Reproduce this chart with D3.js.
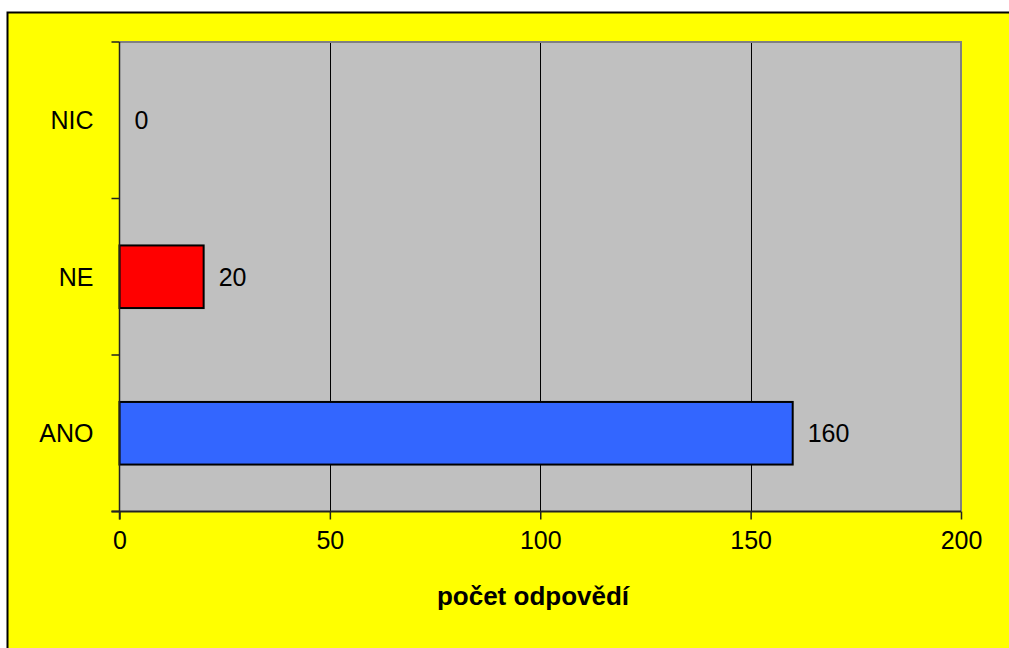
<!DOCTYPE html>
<html>
<head>
<meta charset="utf-8">
<script src="https://cdn.jsdelivr.net/npm/d3@7"></script>
<style>
  html, body { margin: 0; padding: 0; background: #ffffff; }
  svg { display: block; }
  text { font-family: "Liberation Sans", Arial, sans-serif; fill: #000; }
</style>
</head>
<body>
<svg id="chart" width="1009" height="648"></svg>
<script>
// Survey answers and counts
const categories = ["ANO", "NE", "NIC"];
const counts = [160, 20, 0];
const barColors = ["#3366FF", "#FF0000", "#FFFF00"];
const xTicks = [0, 50, 100, 150, 200];
const axisTitle = "počet odpovědí";

const svg = d3.select("#chart");
const W = 1009, H = 648;
const fontSize = 25;

// Yellow chart area with a border on top and left
svg.append("rect").attr("x", 7).attr("y", 12).attr("width", W - 7).attr("height", H - 12)
  .attr("fill", "#FFFF00");
svg.append("path").attr("d", `M7.5,${H} V12.5 H${W}`).attr("fill", "none")
  .attr("stroke", "#000").attr("stroke-width", 2);

const plot = { left: 119.5, right: 961, top: 42, bottom: 511.5 };

const x = d3.scaleLinear().domain([0, 200]).range([plot.left, plot.right]);
// Categories run bottom-to-top
const y = d3.scaleBand().domain(categories).range([plot.bottom, plot.top])
  .paddingInner(0.6).paddingOuter(0.3);
const yOuter = d3.scaleBand().domain(categories).range([plot.bottom, plot.top]);

// Plot background
svg.append("rect").attr("x", plot.left).attr("y", plot.top)
  .attr("width", plot.right - plot.left).attr("height", plot.bottom - plot.top)
  .attr("fill", "#C0C0C0");

// Vertical gridlines
svg.append("g").selectAll("line").data(xTicks.filter(d => d > 0 && d < 200)).join("line")
  .attr("x1", d => Math.round(x(d)) + 0.5).attr("x2", d => Math.round(x(d)) + 0.5)
  .attr("y1", plot.top).attr("y2", plot.bottom)
  .attr("stroke", "#000").attr("stroke-width", 1);

// Gray frame on top and right
svg.append("path")
  .attr("d", `M${plot.left},${plot.top} H${plot.right} V${plot.bottom}`)
  .attr("fill", "none").attr("stroke", "#808080").attr("stroke-width", 2);

// Bars
svg.append("g").selectAll("rect").data(categories).join("rect")
  .filter((d, i) => counts[i] > 0)
  .attr("x", x(0))
  .attr("y", d => y(d))
  .attr("width", d => x(counts[categories.indexOf(d)]) - x(0))
  .attr("height", y.bandwidth())
  .attr("fill", d => barColors[categories.indexOf(d)])
  .attr("stroke", "#000").attr("stroke-width", 2);

// Value labels
svg.append("g").selectAll("text").data(categories).join("text")
  .attr("x", d => x(counts[categories.indexOf(d)]) + 15)
  .attr("y", d => y(d) + y.bandwidth() / 2)
  .attr("dy", "0.35em")
  .attr("font-size", fontSize)
  .attr("fill", "#222")
  .text(d => counts[categories.indexOf(d)]);

// X axis
const xAxis = d3.axisBottom(x).tickValues(xTicks).tickSize(8).tickPadding(12);
const gx = svg.append("g").attr("transform", `translate(0,${plot.bottom})`).call(xAxis);
gx.select(".domain").attr("stroke", "#222").attr("stroke-width", 2)
  .attr("d", `M${plot.left - 8},0 H${plot.right}`);
gx.selectAll(".tick line").attr("stroke", "#222").attr("stroke-width", 1.5);
gx.selectAll(".tick text").attr("font-size", fontSize).attr("font-family", "Liberation Sans, Arial, sans-serif").attr("fill", "#000");

// Y axis with category boundary ticks
const gy = svg.append("g");
gy.append("line").attr("x1", plot.left).attr("x2", plot.left)
  .attr("y1", plot.top).attr("y2", plot.bottom + 8)
  .attr("stroke", "#222").attr("stroke-width", 1.5);
const bounds = categories.map(c => yOuter(c)).concat([plot.bottom]);
gy.selectAll("line.tk").data(bounds).join("line").attr("class", "tk")
  .attr("x1", plot.left - 8).attr("x2", plot.left)
  .attr("y1", d => d).attr("y2", d => d)
  .attr("stroke", "#222").attr("stroke-width", 1.5);
gy.selectAll("text").data(categories).join("text")
  .attr("x", plot.left - 26)
  .attr("y", d => yOuter(d) + yOuter.bandwidth() / 2)
  .attr("dy", "0.35em")
  .attr("text-anchor", "end")
  .attr("font-size", fontSize)
  .text(d => d);

// Axis title
svg.append("text")
  .attr("x", 533)
  .attr("y", 605)
  .attr("text-anchor", "middle")
  .attr("font-size", 26)
  .attr("font-weight", "bold")
  .text(axisTitle);
</script>
</body>
</html>
